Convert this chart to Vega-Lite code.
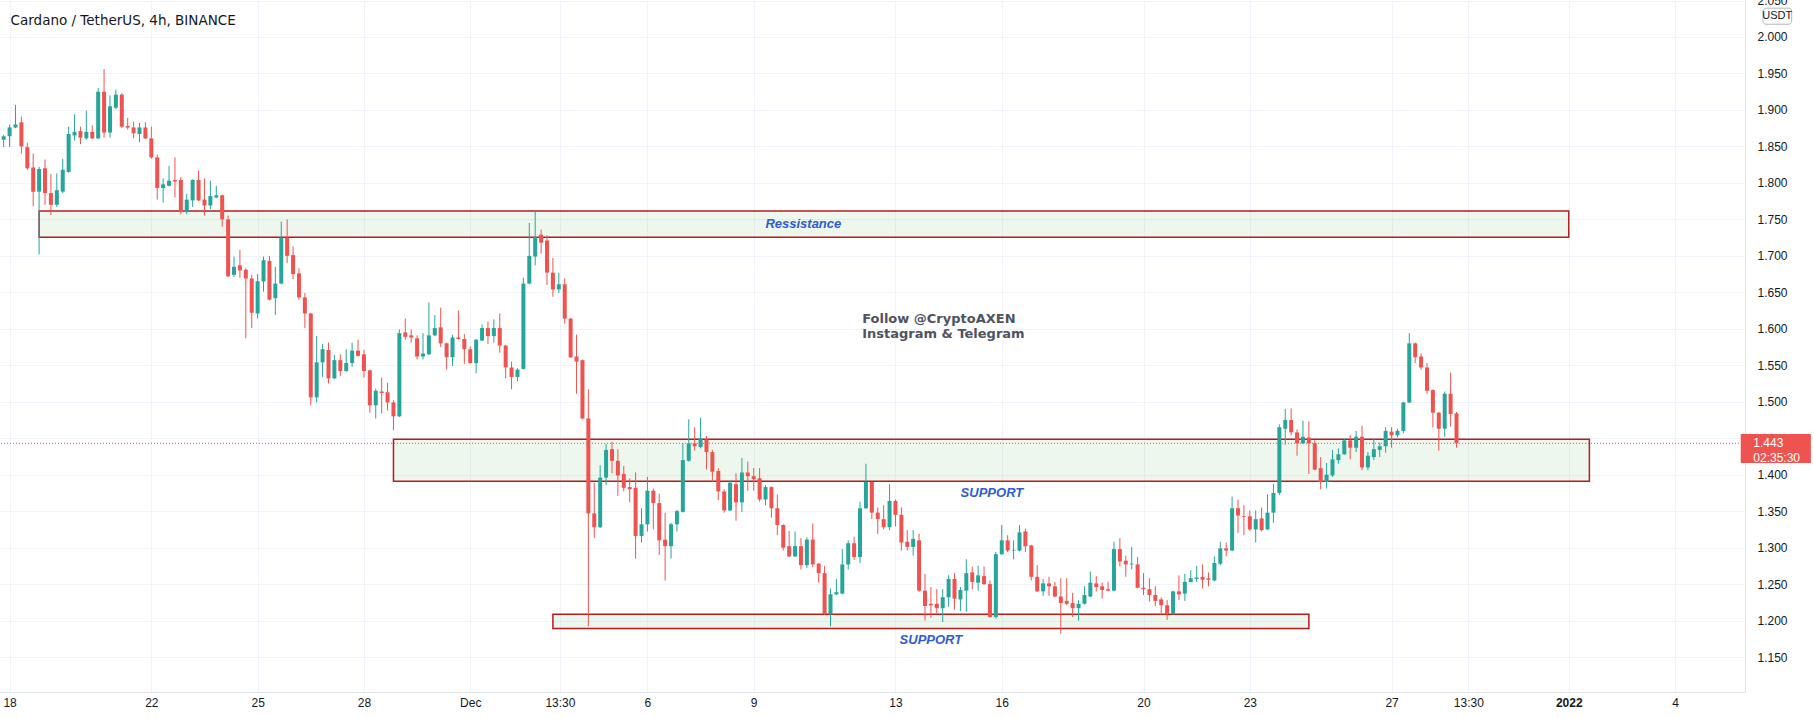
{
"$schema": "https://vega.github.io/schema/vega-lite/v6.json",
"width": 1745, "height": 692,
"autosize": {"type": "none"},
"padding": {"left": 0, "top": 0, "right": 69, "bottom": 26},
"background": "#ffffff",
"config": {"view": {"stroke": null}},
"datasets": {
"candles": [
{"t":"2021-11-17T20:00:00Z","o":1.859,"h":1.866,"l":1.849,"c":1.864},
{"t":"2021-11-18T00:00:00Z","o":1.864,"h":1.880,"l":1.849,"c":1.876},
{"t":"2021-11-18T04:00:00Z","o":1.876,"h":1.907,"l":1.875,"c":1.880},
{"t":"2021-11-18T08:00:00Z","o":1.883,"h":1.891,"l":1.840,"c":1.850},
{"t":"2021-11-18T12:00:00Z","o":1.849,"h":1.855,"l":1.818,"c":1.820},
{"t":"2021-11-18T16:00:00Z","o":1.821,"h":1.840,"l":1.768,"c":1.788},
{"t":"2021-11-18T20:00:00Z","o":1.788,"h":1.822,"l":1.702,"c":1.819},
{"t":"2021-11-19T00:00:00Z","o":1.820,"h":1.832,"l":1.770,"c":1.786},
{"t":"2021-11-19T04:00:00Z","o":1.786,"h":1.812,"l":1.756,"c":1.770},
{"t":"2021-11-19T08:00:00Z","o":1.770,"h":1.813,"l":1.767,"c":1.790},
{"t":"2021-11-19T12:00:00Z","o":1.788,"h":1.833,"l":1.786,"c":1.818},
{"t":"2021-11-19T16:00:00Z","o":1.815,"h":1.877,"l":1.814,"c":1.867},
{"t":"2021-11-19T20:00:00Z","o":1.865,"h":1.894,"l":1.858,"c":1.870},
{"t":"2021-11-20T00:00:00Z","o":1.871,"h":1.877,"l":1.853,"c":1.862},
{"t":"2021-11-20T04:00:00Z","o":1.861,"h":1.899,"l":1.859,"c":1.870},
{"t":"2021-11-20T08:00:00Z","o":1.870,"h":1.879,"l":1.860,"c":1.861},
{"t":"2021-11-20T12:00:00Z","o":1.861,"h":1.930,"l":1.860,"c":1.925},
{"t":"2021-11-20T16:00:00Z","o":1.925,"h":1.956,"l":1.862,"c":1.869},
{"t":"2021-11-20T20:00:00Z","o":1.869,"h":1.920,"l":1.862,"c":1.905},
{"t":"2021-11-21T00:00:00Z","o":1.903,"h":1.928,"l":1.901,"c":1.921},
{"t":"2021-11-21T04:00:00Z","o":1.921,"h":1.923,"l":1.875,"c":1.877},
{"t":"2021-11-21T08:00:00Z","o":1.878,"h":1.889,"l":1.873,"c":1.876},
{"t":"2021-11-21T12:00:00Z","o":1.876,"h":1.884,"l":1.861,"c":1.868},
{"t":"2021-11-21T16:00:00Z","o":1.867,"h":1.882,"l":1.856,"c":1.876},
{"t":"2021-11-21T20:00:00Z","o":1.876,"h":1.883,"l":1.860,"c":1.861},
{"t":"2021-11-22T00:00:00Z","o":1.861,"h":1.877,"l":1.833,"c":1.835},
{"t":"2021-11-22T04:00:00Z","o":1.835,"h":1.839,"l":1.777,"c":1.793},
{"t":"2021-11-22T08:00:00Z","o":1.793,"h":1.806,"l":1.773,"c":1.798},
{"t":"2021-11-22T12:00:00Z","o":1.796,"h":1.823,"l":1.795,"c":1.803},
{"t":"2021-11-22T16:00:00Z","o":1.804,"h":1.835,"l":1.780,"c":1.802},
{"t":"2021-11-22T20:00:00Z","o":1.804,"h":1.808,"l":1.757,"c":1.760},
{"t":"2021-11-23T00:00:00Z","o":1.761,"h":1.785,"l":1.757,"c":1.777},
{"t":"2021-11-23T04:00:00Z","o":1.776,"h":1.805,"l":1.767,"c":1.804},
{"t":"2021-11-23T08:00:00Z","o":1.804,"h":1.817,"l":1.775,"c":1.776},
{"t":"2021-11-23T12:00:00Z","o":1.777,"h":1.806,"l":1.755,"c":1.769},
{"t":"2021-11-23T16:00:00Z","o":1.769,"h":1.803,"l":1.764,"c":1.782},
{"t":"2021-11-23T20:00:00Z","o":1.780,"h":1.796,"l":1.779,"c":1.783},
{"t":"2021-11-24T00:00:00Z","o":1.783,"h":1.784,"l":1.740,"c":1.750},
{"t":"2021-11-24T04:00:00Z","o":1.750,"h":1.755,"l":1.671,"c":1.672},
{"t":"2021-11-24T08:00:00Z","o":1.674,"h":1.699,"l":1.671,"c":1.685},
{"t":"2021-11-24T12:00:00Z","o":1.687,"h":1.708,"l":1.670,"c":1.680},
{"t":"2021-11-24T16:00:00Z","o":1.681,"h":1.683,"l":1.587,"c":1.669},
{"t":"2021-11-24T20:00:00Z","o":1.669,"h":1.674,"l":1.601,"c":1.622},
{"t":"2021-11-25T00:00:00Z","o":1.621,"h":1.675,"l":1.614,"c":1.665},
{"t":"2021-11-25T04:00:00Z","o":1.665,"h":1.699,"l":1.651,"c":1.694},
{"t":"2021-11-25T08:00:00Z","o":1.693,"h":1.700,"l":1.639,"c":1.640},
{"t":"2021-11-25T12:00:00Z","o":1.642,"h":1.685,"l":1.619,"c":1.662},
{"t":"2021-11-25T16:00:00Z","o":1.662,"h":1.747,"l":1.661,"c":1.725},
{"t":"2021-11-25T20:00:00Z","o":1.725,"h":1.750,"l":1.690,"c":1.700},
{"t":"2021-11-26T00:00:00Z","o":1.701,"h":1.713,"l":1.668,"c":1.675},
{"t":"2021-11-26T04:00:00Z","o":1.676,"h":1.683,"l":1.640,"c":1.643},
{"t":"2021-11-26T08:00:00Z","o":1.643,"h":1.649,"l":1.601,"c":1.621},
{"t":"2021-11-26T12:00:00Z","o":1.621,"h":1.622,"l":1.495,"c":1.506},
{"t":"2021-11-26T16:00:00Z","o":1.506,"h":1.590,"l":1.499,"c":1.554},
{"t":"2021-11-26T20:00:00Z","o":1.554,"h":1.579,"l":1.534,"c":1.572},
{"t":"2021-11-27T00:00:00Z","o":1.571,"h":1.581,"l":1.525,"c":1.532},
{"t":"2021-11-27T04:00:00Z","o":1.532,"h":1.564,"l":1.531,"c":1.557},
{"t":"2021-11-27T08:00:00Z","o":1.557,"h":1.565,"l":1.535,"c":1.542},
{"t":"2021-11-27T12:00:00Z","o":1.542,"h":1.572,"l":1.541,"c":1.553},
{"t":"2021-11-27T16:00:00Z","o":1.553,"h":1.581,"l":1.548,"c":1.570},
{"t":"2021-11-27T20:00:00Z","o":1.570,"h":1.585,"l":1.562,"c":1.563},
{"t":"2021-11-28T00:00:00Z","o":1.565,"h":1.571,"l":1.533,"c":1.542},
{"t":"2021-11-28T04:00:00Z","o":1.543,"h":1.544,"l":1.485,"c":1.495},
{"t":"2021-11-28T08:00:00Z","o":1.495,"h":1.518,"l":1.477,"c":1.515},
{"t":"2021-11-28T12:00:00Z","o":1.514,"h":1.533,"l":1.484,"c":1.512},
{"t":"2021-11-28T16:00:00Z","o":1.513,"h":1.526,"l":1.488,"c":1.499},
{"t":"2021-11-28T20:00:00Z","o":1.499,"h":1.502,"l":1.461,"c":1.480},
{"t":"2021-11-29T00:00:00Z","o":1.480,"h":1.599,"l":1.479,"c":1.594},
{"t":"2021-11-29T04:00:00Z","o":1.595,"h":1.614,"l":1.585,"c":1.589},
{"t":"2021-11-29T08:00:00Z","o":1.591,"h":1.599,"l":1.581,"c":1.588},
{"t":"2021-11-29T12:00:00Z","o":1.587,"h":1.591,"l":1.558,"c":1.562},
{"t":"2021-11-29T16:00:00Z","o":1.562,"h":1.594,"l":1.558,"c":1.566},
{"t":"2021-11-29T20:00:00Z","o":1.565,"h":1.636,"l":1.564,"c":1.591},
{"t":"2021-11-30T00:00:00Z","o":1.591,"h":1.619,"l":1.590,"c":1.601},
{"t":"2021-11-30T04:00:00Z","o":1.602,"h":1.629,"l":1.575,"c":1.580},
{"t":"2021-11-30T08:00:00Z","o":1.580,"h":1.581,"l":1.544,"c":1.561},
{"t":"2021-11-30T12:00:00Z","o":1.561,"h":1.592,"l":1.549,"c":1.588},
{"t":"2021-11-30T16:00:00Z","o":1.588,"h":1.625,"l":1.585,"c":1.586},
{"t":"2021-11-30T20:00:00Z","o":1.586,"h":1.593,"l":1.552,"c":1.572},
{"t":"2021-12-01T00:00:00Z","o":1.572,"h":1.576,"l":1.552,"c":1.553},
{"t":"2021-12-01T04:00:00Z","o":1.553,"h":1.586,"l":1.539,"c":1.585},
{"t":"2021-12-01T08:00:00Z","o":1.584,"h":1.606,"l":1.583,"c":1.601},
{"t":"2021-12-01T12:00:00Z","o":1.601,"h":1.610,"l":1.579,"c":1.590},
{"t":"2021-12-01T16:00:00Z","o":1.590,"h":1.613,"l":1.581,"c":1.601},
{"t":"2021-12-01T20:00:00Z","o":1.601,"h":1.621,"l":1.567,"c":1.577},
{"t":"2021-12-02T00:00:00Z","o":1.577,"h":1.578,"l":1.532,"c":1.547},
{"t":"2021-12-02T04:00:00Z","o":1.547,"h":1.555,"l":1.517,"c":1.534},
{"t":"2021-12-02T08:00:00Z","o":1.534,"h":1.546,"l":1.528,"c":1.544},
{"t":"2021-12-02T12:00:00Z","o":1.545,"h":1.670,"l":1.544,"c":1.662},
{"t":"2021-12-02T16:00:00Z","o":1.662,"h":1.745,"l":1.661,"c":1.700},
{"t":"2021-12-02T20:00:00Z","o":1.699,"h":1.760,"l":1.687,"c":1.726},
{"t":"2021-12-03T00:00:00Z","o":1.729,"h":1.736,"l":1.703,"c":1.718},
{"t":"2021-12-03T04:00:00Z","o":1.721,"h":1.728,"l":1.660,"c":1.677},
{"t":"2021-12-03T08:00:00Z","o":1.677,"h":1.697,"l":1.644,"c":1.654},
{"t":"2021-12-03T12:00:00Z","o":1.654,"h":1.677,"l":1.649,"c":1.661},
{"t":"2021-12-03T16:00:00Z","o":1.661,"h":1.669,"l":1.607,"c":1.614},
{"t":"2021-12-03T20:00:00Z","o":1.614,"h":1.615,"l":1.560,"c":1.561},
{"t":"2021-12-04T00:00:00Z","o":1.562,"h":1.592,"l":1.511,"c":1.555},
{"t":"2021-12-04T04:00:00Z","o":1.557,"h":1.558,"l":1.476,"c":1.477},
{"t":"2021-12-04T08:00:00Z","o":1.477,"h":1.517,"l":1.192,"c":1.347},
{"t":"2021-12-04T12:00:00Z","o":1.347,"h":1.389,"l":1.313,"c":1.328},
{"t":"2021-12-04T16:00:00Z","o":1.328,"h":1.413,"l":1.327,"c":1.396},
{"t":"2021-12-04T20:00:00Z","o":1.396,"h":1.442,"l":1.386,"c":1.434},
{"t":"2021-12-05T00:00:00Z","o":1.435,"h":1.445,"l":1.402,"c":1.419},
{"t":"2021-12-05T04:00:00Z","o":1.419,"h":1.435,"l":1.371,"c":1.399},
{"t":"2021-12-05T08:00:00Z","o":1.401,"h":1.412,"l":1.377,"c":1.382},
{"t":"2021-12-05T12:00:00Z","o":1.383,"h":1.395,"l":1.362,"c":1.380},
{"t":"2021-12-05T16:00:00Z","o":1.382,"h":1.403,"l":1.285,"c":1.316},
{"t":"2021-12-05T20:00:00Z","o":1.316,"h":1.354,"l":1.307,"c":1.332},
{"t":"2021-12-06T00:00:00Z","o":1.332,"h":1.397,"l":1.322,"c":1.378},
{"t":"2021-12-06T04:00:00Z","o":1.378,"h":1.381,"l":1.325,"c":1.361},
{"t":"2021-12-06T08:00:00Z","o":1.361,"h":1.374,"l":1.290,"c":1.310},
{"t":"2021-12-06T12:00:00Z","o":1.311,"h":1.348,"l":1.255,"c":1.302},
{"t":"2021-12-06T16:00:00Z","o":1.302,"h":1.334,"l":1.285,"c":1.332},
{"t":"2021-12-06T20:00:00Z","o":1.332,"h":1.352,"l":1.322,"c":1.350},
{"t":"2021-12-07T00:00:00Z","o":1.349,"h":1.443,"l":1.348,"c":1.420},
{"t":"2021-12-07T04:00:00Z","o":1.419,"h":1.476,"l":1.418,"c":1.443},
{"t":"2021-12-07T08:00:00Z","o":1.443,"h":1.465,"l":1.433,"c":1.439},
{"t":"2021-12-07T12:00:00Z","o":1.438,"h":1.478,"l":1.436,"c":1.450},
{"t":"2021-12-07T16:00:00Z","o":1.448,"h":1.453,"l":1.407,"c":1.431},
{"t":"2021-12-07T20:00:00Z","o":1.431,"h":1.434,"l":1.390,"c":1.404},
{"t":"2021-12-08T00:00:00Z","o":1.405,"h":1.409,"l":1.365,"c":1.377},
{"t":"2021-12-08T04:00:00Z","o":1.377,"h":1.380,"l":1.348,"c":1.351},
{"t":"2021-12-08T08:00:00Z","o":1.351,"h":1.392,"l":1.350,"c":1.389},
{"t":"2021-12-08T12:00:00Z","o":1.387,"h":1.402,"l":1.337,"c":1.362},
{"t":"2021-12-08T16:00:00Z","o":1.362,"h":1.423,"l":1.349,"c":1.403},
{"t":"2021-12-08T20:00:00Z","o":1.403,"h":1.418,"l":1.378,"c":1.398},
{"t":"2021-12-09T00:00:00Z","o":1.398,"h":1.409,"l":1.378,"c":1.394},
{"t":"2021-12-09T04:00:00Z","o":1.395,"h":1.409,"l":1.363,"c":1.366},
{"t":"2021-12-09T08:00:00Z","o":1.366,"h":1.386,"l":1.358,"c":1.383},
{"t":"2021-12-09T12:00:00Z","o":1.383,"h":1.384,"l":1.341,"c":1.354},
{"t":"2021-12-09T16:00:00Z","o":1.354,"h":1.373,"l":1.317,"c":1.331},
{"t":"2021-12-09T20:00:00Z","o":1.331,"h":1.332,"l":1.296,"c":1.300},
{"t":"2021-12-10T00:00:00Z","o":1.302,"h":1.323,"l":1.287,"c":1.288},
{"t":"2021-12-10T04:00:00Z","o":1.288,"h":1.322,"l":1.287,"c":1.302},
{"t":"2021-12-10T08:00:00Z","o":1.302,"h":1.313,"l":1.270,"c":1.276},
{"t":"2021-12-10T12:00:00Z","o":1.276,"h":1.314,"l":1.272,"c":1.311},
{"t":"2021-12-10T16:00:00Z","o":1.311,"h":1.333,"l":1.273,"c":1.277},
{"t":"2021-12-10T20:00:00Z","o":1.278,"h":1.279,"l":1.252,"c":1.265},
{"t":"2021-12-11T00:00:00Z","o":1.265,"h":1.275,"l":1.208,"c":1.209},
{"t":"2021-12-11T04:00:00Z","o":1.209,"h":1.244,"l":1.192,"c":1.236},
{"t":"2021-12-11T08:00:00Z","o":1.236,"h":1.257,"l":1.235,"c":1.239},
{"t":"2021-12-11T12:00:00Z","o":1.237,"h":1.298,"l":1.236,"c":1.277},
{"t":"2021-12-11T16:00:00Z","o":1.277,"h":1.310,"l":1.270,"c":1.306},
{"t":"2021-12-11T20:00:00Z","o":1.306,"h":1.315,"l":1.283,"c":1.287},
{"t":"2021-12-12T00:00:00Z","o":1.287,"h":1.363,"l":1.279,"c":1.354},
{"t":"2021-12-12T04:00:00Z","o":1.354,"h":1.415,"l":1.353,"c":1.390},
{"t":"2021-12-12T08:00:00Z","o":1.390,"h":1.391,"l":1.339,"c":1.348},
{"t":"2021-12-12T12:00:00Z","o":1.348,"h":1.355,"l":1.319,"c":1.339},
{"t":"2021-12-12T16:00:00Z","o":1.339,"h":1.358,"l":1.325,"c":1.328},
{"t":"2021-12-12T20:00:00Z","o":1.328,"h":1.387,"l":1.324,"c":1.364},
{"t":"2021-12-13T00:00:00Z","o":1.364,"h":1.366,"l":1.329,"c":1.345},
{"t":"2021-12-13T04:00:00Z","o":1.345,"h":1.355,"l":1.296,"c":1.307},
{"t":"2021-12-13T08:00:00Z","o":1.308,"h":1.324,"l":1.296,"c":1.301},
{"t":"2021-12-13T12:00:00Z","o":1.301,"h":1.324,"l":1.289,"c":1.312},
{"t":"2021-12-13T16:00:00Z","o":1.310,"h":1.319,"l":1.239,"c":1.241},
{"t":"2021-12-13T20:00:00Z","o":1.241,"h":1.264,"l":1.200,"c":1.220},
{"t":"2021-12-14T00:00:00Z","o":1.223,"h":1.246,"l":1.204,"c":1.221},
{"t":"2021-12-14T04:00:00Z","o":1.223,"h":1.243,"l":1.210,"c":1.217},
{"t":"2021-12-14T08:00:00Z","o":1.217,"h":1.243,"l":1.198,"c":1.232},
{"t":"2021-12-14T12:00:00Z","o":1.232,"h":1.262,"l":1.219,"c":1.257},
{"t":"2021-12-14T16:00:00Z","o":1.257,"h":1.265,"l":1.215,"c":1.230},
{"t":"2021-12-14T20:00:00Z","o":1.229,"h":1.246,"l":1.213,"c":1.242},
{"t":"2021-12-15T00:00:00Z","o":1.241,"h":1.284,"l":1.212,"c":1.265},
{"t":"2021-12-15T04:00:00Z","o":1.266,"h":1.274,"l":1.243,"c":1.253},
{"t":"2021-12-15T08:00:00Z","o":1.252,"h":1.275,"l":1.241,"c":1.262},
{"t":"2021-12-15T12:00:00Z","o":1.261,"h":1.274,"l":1.249,"c":1.250},
{"t":"2021-12-15T16:00:00Z","o":1.250,"h":1.255,"l":1.204,"c":1.205},
{"t":"2021-12-15T20:00:00Z","o":1.205,"h":1.294,"l":1.203,"c":1.291},
{"t":"2021-12-16T00:00:00Z","o":1.291,"h":1.331,"l":1.290,"c":1.310},
{"t":"2021-12-16T04:00:00Z","o":1.310,"h":1.317,"l":1.294,"c":1.296},
{"t":"2021-12-16T08:00:00Z","o":1.296,"h":1.310,"l":1.284,"c":1.297},
{"t":"2021-12-16T12:00:00Z","o":1.296,"h":1.331,"l":1.295,"c":1.321},
{"t":"2021-12-16T16:00:00Z","o":1.322,"h":1.326,"l":1.294,"c":1.302},
{"t":"2021-12-16T20:00:00Z","o":1.303,"h":1.304,"l":1.255,"c":1.260},
{"t":"2021-12-17T00:00:00Z","o":1.260,"h":1.276,"l":1.239,"c":1.240},
{"t":"2021-12-17T04:00:00Z","o":1.240,"h":1.257,"l":1.234,"c":1.251},
{"t":"2021-12-17T08:00:00Z","o":1.251,"h":1.260,"l":1.234,"c":1.247},
{"t":"2021-12-17T12:00:00Z","o":1.247,"h":1.253,"l":1.232,"c":1.233},
{"t":"2021-12-17T16:00:00Z","o":1.233,"h":1.258,"l":1.182,"c":1.224},
{"t":"2021-12-17T20:00:00Z","o":1.227,"h":1.258,"l":1.221,"c":1.223},
{"t":"2021-12-18T00:00:00Z","o":1.224,"h":1.238,"l":1.205,"c":1.217},
{"t":"2021-12-18T04:00:00Z","o":1.217,"h":1.228,"l":1.200,"c":1.223},
{"t":"2021-12-18T08:00:00Z","o":1.223,"h":1.247,"l":1.222,"c":1.235},
{"t":"2021-12-18T12:00:00Z","o":1.233,"h":1.267,"l":1.232,"c":1.252},
{"t":"2021-12-18T16:00:00Z","o":1.251,"h":1.261,"l":1.240,"c":1.246},
{"t":"2021-12-18T20:00:00Z","o":1.247,"h":1.252,"l":1.230,"c":1.242},
{"t":"2021-12-19T00:00:00Z","o":1.243,"h":1.253,"l":1.240,"c":1.241},
{"t":"2021-12-19T04:00:00Z","o":1.241,"h":1.308,"l":1.240,"c":1.298},
{"t":"2021-12-19T08:00:00Z","o":1.298,"h":1.313,"l":1.274,"c":1.281},
{"t":"2021-12-19T12:00:00Z","o":1.282,"h":1.289,"l":1.260,"c":1.277},
{"t":"2021-12-19T16:00:00Z","o":1.277,"h":1.301,"l":1.270,"c":1.278},
{"t":"2021-12-19T20:00:00Z","o":1.277,"h":1.287,"l":1.244,"c":1.245},
{"t":"2021-12-20T00:00:00Z","o":1.245,"h":1.265,"l":1.235,"c":1.243},
{"t":"2021-12-20T04:00:00Z","o":1.243,"h":1.258,"l":1.226,"c":1.235},
{"t":"2021-12-20T08:00:00Z","o":1.235,"h":1.247,"l":1.220,"c":1.227},
{"t":"2021-12-20T12:00:00Z","o":1.229,"h":1.232,"l":1.208,"c":1.221},
{"t":"2021-12-20T16:00:00Z","o":1.221,"h":1.228,"l":1.201,"c":1.209},
{"t":"2021-12-20T20:00:00Z","o":1.209,"h":1.241,"l":1.208,"c":1.240},
{"t":"2021-12-21T00:00:00Z","o":1.240,"h":1.262,"l":1.228,"c":1.236},
{"t":"2021-12-21T04:00:00Z","o":1.237,"h":1.264,"l":1.227,"c":1.253},
{"t":"2021-12-21T08:00:00Z","o":1.253,"h":1.269,"l":1.252,"c":1.258},
{"t":"2021-12-21T12:00:00Z","o":1.257,"h":1.275,"l":1.253,"c":1.259},
{"t":"2021-12-21T16:00:00Z","o":1.260,"h":1.277,"l":1.244,"c":1.256},
{"t":"2021-12-21T20:00:00Z","o":1.258,"h":1.266,"l":1.247,"c":1.256},
{"t":"2021-12-22T00:00:00Z","o":1.255,"h":1.288,"l":1.254,"c":1.279},
{"t":"2021-12-22T04:00:00Z","o":1.278,"h":1.308,"l":1.276,"c":1.299},
{"t":"2021-12-22T08:00:00Z","o":1.299,"h":1.307,"l":1.288,"c":1.296},
{"t":"2021-12-22T12:00:00Z","o":1.296,"h":1.370,"l":1.295,"c":1.354},
{"t":"2021-12-22T16:00:00Z","o":1.354,"h":1.366,"l":1.320,"c":1.344},
{"t":"2021-12-22T20:00:00Z","o":1.343,"h":1.358,"l":1.317,"c":1.342},
{"t":"2021-12-23T00:00:00Z","o":1.343,"h":1.351,"l":1.323,"c":1.325},
{"t":"2021-12-23T04:00:00Z","o":1.325,"h":1.351,"l":1.307,"c":1.339},
{"t":"2021-12-23T08:00:00Z","o":1.340,"h":1.355,"l":1.322,"c":1.324},
{"t":"2021-12-23T12:00:00Z","o":1.325,"h":1.373,"l":1.324,"c":1.348},
{"t":"2021-12-23T16:00:00Z","o":1.348,"h":1.387,"l":1.334,"c":1.375},
{"t":"2021-12-23T20:00:00Z","o":1.375,"h":1.469,"l":1.372,"c":1.465},
{"t":"2021-12-24T00:00:00Z","o":1.463,"h":1.490,"l":1.441,"c":1.475},
{"t":"2021-12-24T04:00:00Z","o":1.475,"h":1.491,"l":1.454,"c":1.458},
{"t":"2021-12-24T08:00:00Z","o":1.458,"h":1.462,"l":1.426,"c":1.443},
{"t":"2021-12-24T12:00:00Z","o":1.443,"h":1.474,"l":1.442,"c":1.452},
{"t":"2021-12-24T16:00:00Z","o":1.451,"h":1.473,"l":1.401,"c":1.443},
{"t":"2021-12-24T20:00:00Z","o":1.443,"h":1.447,"l":1.406,"c":1.407},
{"t":"2021-12-25T00:00:00Z","o":1.409,"h":1.424,"l":1.380,"c":1.390},
{"t":"2021-12-25T04:00:00Z","o":1.390,"h":1.416,"l":1.381,"c":1.400},
{"t":"2021-12-25T08:00:00Z","o":1.399,"h":1.434,"l":1.397,"c":1.421},
{"t":"2021-12-25T12:00:00Z","o":1.420,"h":1.436,"l":1.415,"c":1.428},
{"t":"2021-12-25T16:00:00Z","o":1.428,"h":1.450,"l":1.427,"c":1.447},
{"t":"2021-12-25T20:00:00Z","o":1.447,"h":1.454,"l":1.421,"c":1.437},
{"t":"2021-12-26T00:00:00Z","o":1.437,"h":1.460,"l":1.431,"c":1.452},
{"t":"2021-12-26T04:00:00Z","o":1.452,"h":1.467,"l":1.406,"c":1.410},
{"t":"2021-12-26T08:00:00Z","o":1.410,"h":1.431,"l":1.406,"c":1.426},
{"t":"2021-12-26T12:00:00Z","o":1.424,"h":1.450,"l":1.420,"c":1.435},
{"t":"2021-12-26T16:00:00Z","o":1.434,"h":1.444,"l":1.424,"c":1.439},
{"t":"2021-12-26T20:00:00Z","o":1.439,"h":1.465,"l":1.430,"c":1.460},
{"t":"2021-12-27T00:00:00Z","o":1.459,"h":1.465,"l":1.437,"c":1.454},
{"t":"2021-12-27T04:00:00Z","o":1.454,"h":1.463,"l":1.451,"c":1.460},
{"t":"2021-12-27T08:00:00Z","o":1.460,"h":1.500,"l":1.457,"c":1.499},
{"t":"2021-12-27T12:00:00Z","o":1.499,"h":1.594,"l":1.498,"c":1.580},
{"t":"2021-12-27T16:00:00Z","o":1.580,"h":1.581,"l":1.553,"c":1.561},
{"t":"2021-12-27T20:00:00Z","o":1.562,"h":1.566,"l":1.544,"c":1.547},
{"t":"2021-12-28T00:00:00Z","o":1.547,"h":1.553,"l":1.511,"c":1.515},
{"t":"2021-12-28T04:00:00Z","o":1.516,"h":1.517,"l":1.465,"c":1.485},
{"t":"2021-12-28T08:00:00Z","o":1.485,"h":1.486,"l":1.433,"c":1.463},
{"t":"2021-12-28T12:00:00Z","o":1.463,"h":1.514,"l":1.452,"c":1.511},
{"t":"2021-12-28T16:00:00Z","o":1.511,"h":1.540,"l":1.466,"c":1.483},
{"t":"2021-12-28T20:00:00Z","o":1.484,"h":1.486,"l":1.437,"c":1.443}
],
"boxes": [
{"t":"2021-11-18T20:00:00Z","t2":"2022-01-01T00:00:00Z","p":1.7254,"p2":1.7614},
{"t":"2021-11-28T20:00:00Z","t2":"2022-01-01T14:00:00Z","p":1.391,"p2":1.4485},
{"t":"2021-12-03T08:00:00Z","t2":"2021-12-24T16:00:00Z","p":1.1893,"p2":1.2087}
],
"zoneLabels": [
{"t":"2021-12-10T09:36:00Z","p":1.743,"label":"Ressistance"},
{"t":"2021-12-15T17:20:00Z","p":1.375,"label":"SUPPORT"},
{"t":"2021-12-14T00:00:00Z","p":1.174,"label":"SUPPORT"}
],
"follow": [
{"t":"2021-12-12T01:26:00Z","p":1.6135,"label":"Follow @CryptoAXEN"},
{"t":"2021-12-12T01:26:00Z","p":1.5925,"label":"Instagram & Telegram"}
],
"header": [
{"t":"2021-11-18T00:40:00Z","p":2.0215,"label":"Cardano / TetherUS, 4h, BINANCE"}
],
"last": [{"p":1.443}],
"priceTag": [{"t":"2022-01-05T20:30:00Z","t2":"2022-01-07T20:00:00Z","p":1.416,"p2":1.4557}],
"priceTagText": [
{"t":"2022-01-06T05:00:00Z","p":1.4434,"label":"1.443","w":"bold"},
{"t":"2022-01-06T05:00:00Z","p":1.4228,"label":"02:35:30","w":"normal"}
],
"badge": [{"t":"2022-01-06T11:30:00Z","t2":"2022-01-07T07:00:00Z","p":2.0175,"p2":2.0395}],
"badgeText": [{"t":"2022-01-06T21:15:00Z","p":2.0285,"label":"USDT"}]
},
"layer": [
{
"data": {"name": "boxes"},
"mark": {"type": "rect", "fill": "#4caf50", "fillOpacity": 0.1, "stroke": "#b71c1c", "strokeWidth": 1.5},
"encoding": {
"x": {"field": "t", "type": "temporal",
"scale": {"type": "utc", "nice": false, "domain": [{"year": 2021, "month": 11, "date": 17, "hours": 20, "minutes": 54, "utc": true}, {"year": 2022, "month": 1, "date": 5, "hours": 20, "utc": true}]},
"axis": {"title": null, "tickCount": 60,
"values": [
{"year": 2021, "month": 11, "date": 18, "utc": true},
{"year": 2021, "month": 11, "date": 22, "utc": true},
{"year": 2021, "month": 11, "date": 25, "utc": true},
{"year": 2021, "month": 11, "date": 28, "utc": true},
{"year": 2021, "month": 12, "date": 1, "utc": true},
{"year": 2021, "month": 12, "date": 3, "hours": 12, "minutes": 45, "utc": true},
{"year": 2021, "month": 12, "date": 6, "utc": true},
{"year": 2021, "month": 12, "date": 9, "utc": true},
{"year": 2021, "month": 12, "date": 13, "utc": true},
{"year": 2021, "month": 12, "date": 16, "utc": true},
{"year": 2021, "month": 12, "date": 20, "utc": true},
{"year": 2021, "month": 12, "date": 23, "utc": true},
{"year": 2021, "month": 12, "date": 27, "utc": true},
{"year": 2021, "month": 12, "date": 29, "hours": 4, "utc": true},
{"year": 2022, "month": 1, "date": 1, "utc": true},
{"year": 2022, "month": 1, "date": 4, "utc": true}
],
"labelExpr": "utcFormat(datum.value, '%H') != '00' ? '13:30' : (utcFormat(datum.value, '%m%d') == '1201' ? 'Dec' : (utcFormat(datum.value, '%m%d') == '0101' ? '2022' : utcFormat(datum.value, '%-d')))",
"labelFontWeight": {"condition": {"test": "utcFormat(datum.value, '%m%d%H') == '010100'", "value": "bold"}, "value": "normal"},
"grid": true, "gridColor": "#f0f3fa", "gridWidth": 1,
"domainColor": "#e0e3eb", "ticks": false, "labelPadding": 5,
"labelFont": "Liberation Sans", "labelFontSize": 12, "labelColor": "#131722",
"labelFlush": false, "labelOverlap": false}},
"x2": {"field": "t2"},
"y": {"field": "p", "type": "quantitative",
"scale": {"domain": [1.1021, 2.0507], "nice": false, "zero": false},
"axis": {"title": null, "orient": "right", "tickCount": 40,
"values": [1.15,1.2,1.25,1.3,1.35,1.4,1.45,1.5,1.55,1.6,1.65,1.7,1.75,1.8,1.85,1.9,1.95,2.0,2.05],
"format": ".3f", "grid": true, "gridColor": "#f0f3fa", "gridWidth": 1,
"domainColor": "#e0e3eb", "ticks": false, "labelPadding": 12,
"labelFont": "Liberation Sans", "labelFontSize": 12, "labelColor": "#131722",
"labelFlush": false, "labelOverlap": false}},
"y2": {"field": "p2"}
}
},
{
"data": {"name": "candles"},
"mark": {"type": "rule", "strokeWidth": 1},
"encoding": {
"x": {"field": "t", "type": "temporal"},
"y": {"field": "l", "type": "quantitative"},
"y2": {"field": "h"},
"color": {"condition": {"test": "datum.c >= datum.o", "value": "#26a69a"}, "value": "#ef5350"}
}
},
{
"data": {"name": "candles"},
"mark": {"type": "bar", "size": 4},
"encoding": {
"x": {"field": "t", "type": "temporal"},
"y": {"field": "o", "type": "quantitative"},
"y2": {"field": "c"},
"color": {"condition": {"test": "datum.c >= datum.o", "value": "#26a69a"}, "value": "#ef5350"}
}
},
{
"data": {"name": "last"},
"mark": {"type": "rule", "color": "#ef5350", "strokeWidth": 1, "strokeDash": [1, 2]},
"encoding": {"y": {"field": "p", "type": "quantitative"}}
},
{
"data": {"name": "zoneLabels"},
"mark": {"type": "text", "font": "Liberation Sans", "fontSize": 13, "fontWeight": "bold", "fontStyle": "italic", "color": "#2f5bd9", "align": "center", "baseline": "middle"},
"encoding": {"x": {"field": "t", "type": "temporal"}, "y": {"field": "p", "type": "quantitative"}, "text": {"field": "label"}}
},
{
"data": {"name": "follow"},
"mark": {"type": "text", "font": "DejaVu Sans", "fontSize": 13, "fontWeight": "bold", "color": "#50535e", "align": "left", "baseline": "middle"},
"encoding": {"x": {"field": "t", "type": "temporal"}, "y": {"field": "p", "type": "quantitative"}, "text": {"field": "label"}}
},
{
"data": {"name": "header"},
"mark": {"type": "text", "font": "DejaVu Sans", "fontSize": 13.5, "color": "#131722", "align": "left", "baseline": "middle"},
"encoding": {"x": {"field": "t", "type": "temporal"}, "y": {"field": "p", "type": "quantitative"}, "text": {"field": "label"}}
},
{
"data": {"name": "priceTag"},
"mark": {"type": "rect", "color": "#ef5350"},
"encoding": {"x": {"field": "t", "type": "temporal"}, "x2": {"field": "t2"}, "y": {"field": "p", "type": "quantitative"}, "y2": {"field": "p2"}}
},
{
"data": {"name": "priceTagText"},
"mark": {"type": "text", "font": "Liberation Sans", "fontSize": 12, "color": "#ffffff", "align": "left", "baseline": "middle"},
"encoding": {"x": {"field": "t", "type": "temporal"}, "y": {"field": "p", "type": "quantitative"}, "text": {"field": "label"},
"fontWeight": {"field": "w", "type": "nominal", "scale": null}}
},
{
"data": {"name": "badge"},
"mark": {"type": "rect", "fill": "#ffffff", "stroke": "#b2b5be", "strokeWidth": 1, "cornerRadius": 3},
"encoding": {"x": {"field": "t", "type": "temporal"}, "x2": {"field": "t2"}, "y": {"field": "p", "type": "quantitative"}, "y2": {"field": "p2"}}
},
{
"data": {"name": "badgeText"},
"mark": {"type": "text", "font": "Liberation Sans", "fontSize": 11, "color": "#131722", "align": "center", "baseline": "middle"},
"encoding": {"x": {"field": "t", "type": "temporal"}, "y": {"field": "p", "type": "quantitative"}, "text": {"field": "label"}}
}
]
}
